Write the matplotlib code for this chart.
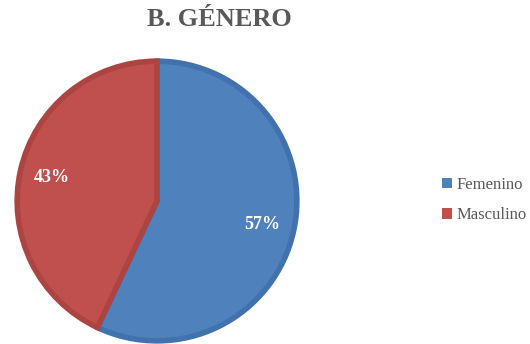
import matplotlib
matplotlib.use("Agg")
import matplotlib.pyplot as plt

categories = ["Femenino", "Masculino"]
values = [57, 43]
colors = ["#4F81BD", "#C0504D"]
edges = ["#4272AD", "#AC4542"]

fig = plt.figure(figsize=(5.3, 3.44), dpi=100)
ax = fig.add_axes([14/530, 0/344, 286/530, 286/344])
wedges, texts, autotexts = ax.pie(
    values, colors=colors, startangle=90, counterclock=False,
    autopct=lambda p: f"{p:.0f}%", pctdistance=0.77, radius=0.978,
    wedgeprops=dict(linewidth=4, joinstyle="miter"),
    textprops=dict(color="white", fontweight="bold", fontsize=13,
                   family="Liberation Serif"))
for w, e in zip(wedges, edges):
    w.set_edgecolor(e)
ax.set_xlim(-1, 1)
ax.set_ylim(-1, 1)
ax.set_aspect("equal")

fig.text(219/530, 1 - 19/344, "B. GÉNERO", ha="center", va="center",
         fontsize=19, fontweight="bold", color="#595959",
         family="Liberation Serif")

leg = fig.legend(wedges, categories, loc="center left",
                 bbox_to_anchor=(427/530, 1 - 200/344), frameon=False,
                 prop=dict(family="Liberation Serif", size=12),
                 handlelength=0.6, handleheight=0.6, handletextpad=0.25,
                 labelspacing=0.85, labelcolor="#595959")
for h, c in zip(leg.legend_handles, colors):
    h.set_edgecolor(c)
    h.set_linewidth(0)

fig.savefig("out.png", dpi=100)
